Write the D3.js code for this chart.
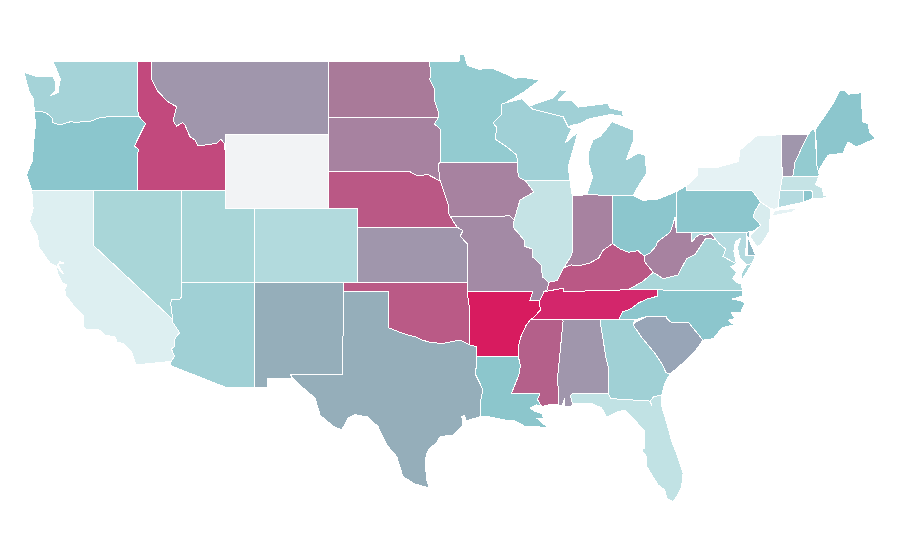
<!DOCTYPE html>
<html><head><meta charset="utf-8">
<script src="https://cdn.jsdelivr.net/npm/d3@7"></script>
<style>html,body{margin:0;background:#fff}svg{display:block}</style>
</head><body><svg id="map" width="900" height="560"></svg>
<script>
// State outlines, longitude / latitude
const WA=[[[-122.76,49],[-117.03,49],[-117.03,46.42],[-116.92,46],[-118.98,46],[-119.3,45.93],[-119.6,45.92],[-120.2,45.73],[-120.65,45.73],[-121.2,45.65],[-121.53,45.72],[-122,45.6],[-122.3,45.55],[-122.75,45.65],[-122.8,45.9],[-123.15,46.15],[-123.45,46.25],[-124,46.27],[-124.07,46.65],[-124.1,47],[-124.35,47.3],[-124.6,48],[-124.72,48.38],[-123.9,48.16],[-123.1,48.15],[-122.75,48.15],[-122.6,47.9],[-122.55,47.4],[-122.95,47.1],[-122.4,47.3],[-122.35,47.6],[-122.25,48],[-122.5,48.5],[-122.76,49]]];
const OR=[[[-124,46.27],[-123.45,46.25],[-123.15,46.15],[-122.8,45.9],[-122.75,45.65],[-122.3,45.55],[-122,45.6],[-121.53,45.72],[-121.2,45.65],[-120.65,45.73],[-120.2,45.73],[-119.6,45.92],[-119.3,45.93],[-118.98,46],[-116.92,46],[-116.47,45.6],[-116.85,45],[-117.22,44.4],[-116.95,44.2],[-117.03,43.8],[-117.03,42],[-124.2,42],[-124.55,42.84],[-124.15,43.6],[-124.05,44.7],[-123.95,45.5]]];
const CA=[[[-124.2,42],[-120,42],[-120,39],[-114.63,35],[-114.63,34.85],[-114.15,34.27],[-114.45,34],[-114.52,33.5],[-114.72,33.4],[-114.5,33],[-114.72,32.72],[-117.12,32.53],[-117.25,32.85],[-117.4,33.2],[-118,33.7],[-118.4,33.75],[-118.5,34.03],[-119.2,34.15],[-119.6,34.42],[-120.47,34.45],[-120.65,34.6],[-120.65,35.15],[-121.3,35.7],[-121.9,36.3],[-121.95,36.6],[-121.8,36.85],[-122.1,36.97],[-122.45,37.5],[-122.5,37.8],[-122.4,37.8],[-122.15,37.5],[-122.05,37.5],[-122.3,37.8],[-122.4,38],[-122,38.05],[-122.3,38.12],[-122.5,37.85],[-122.95,38.05],[-123.7,38.9],[-123.8,39.5],[-124.35,40.3],[-124.1,41]]];
const NV=[[[-120,42],[-114.04,42],[-114.04,36.2],[-114.15,36.05],[-114.7,36.1],[-114.75,35.85],[-114.63,35],[-120,39]]];
const UT=[[[-114.04,42],[-111.05,42],[-111.05,41],[-109.05,41],[-109.05,37],[-114.04,37]]];
const WY=[[[-111.05,45],[-104.05,45],[-104.05,41],[-111.05,41]]];
const CO=[[[-109.05,41],[-102.05,41],[-102.05,37],[-109.05,37]]];
const MT=[[[-116.05,49],[-104.05,49],[-104.05,45],[-111.05,45],[-111.07,44.48],[-111.34,44.77],[-111.63,44.54],[-112.9,44.39],[-113.1,44.72],[-113.45,44.9],[-113.79,45.53],[-113.97,45.66],[-114.35,45.47],[-114.6,45.76],[-114.35,46.52],[-114.94,46.79],[-115.62,47.34],[-116.03,47.97]]];
const ID=[[[-117.03,49],[-116.05,49],[-116.03,47.97],[-115.62,47.34],[-114.94,46.79],[-114.35,46.52],[-114.6,45.76],[-114.35,45.47],[-113.97,45.66],[-113.79,45.53],[-113.45,44.9],[-113.1,44.72],[-112.9,44.39],[-111.63,44.54],[-111.34,44.77],[-111.07,44.48],[-111.05,42],[-117.03,42],[-117.03,43.8],[-116.95,44.2],[-117.22,44.4],[-116.85,45],[-116.47,45.6],[-116.92,46],[-117.03,46.42]]];
const AZ=[[[-114.04,37],[-109.05,37],[-109.05,31.33],[-111.07,31.33],[-114.8,32.5],[-114.72,32.72],[-114.5,33],[-114.72,33.4],[-114.52,33.5],[-114.45,34],[-114.15,34.27],[-114.63,34.85],[-114.63,35],[-114.75,35.85],[-114.7,36.1],[-114.15,36.05],[-114.04,36.2]]];
const NM=[[[-109.05,37],[-103.04,37],[-103.04,36.5],[-103.06,32],[-106.62,32],[-106.53,31.78],[-108.2,31.78],[-108.2,31.33],[-109.05,31.33]]];
const TX=[[[-103.04,36.5],[-99.97,36.5],[-99.97,34.55],[-99.3,34.33],[-98.63,34.15],[-98.16,34.06],[-97.7,33.88],[-97.03,33.73],[-96.24,33.7],[-95.1,33.88],[-94.43,33.6],[-93.97,33.52],[-93.97,33],[-94.04,31.99],[-93.55,31.2],[-93.7,30.6],[-93.7,30.1],[-93.74,29.72],[-94.7,29.5],[-94.8,29.78],[-94.98,29.72],[-94.9,29.27],[-95.58,28.73],[-96.46,28.64],[-96.69,28.3],[-97.14,28.03],[-97.36,27.75],[-97.48,27.28],[-97.36,26.28],[-97.2,25.9],[-97.35,25.9],[-98.16,26.07],[-98.98,26.47],[-99.4,27.55],[-100.08,28.19],[-100.67,29.18],[-101.35,29.7],[-102.24,29.83],[-102.71,29.65],[-103.14,29],[-103.71,29.2],[-104.6,29.8],[-104.95,30.73],[-105.86,31.35],[-106.65,31.98],[-103.06,32]]];
const ND=[[[-104.05,49],[-97.23,49],[-97.1,48.5],[-97.15,48],[-96.85,47.5],[-96.85,46.9],[-96.6,46.3],[-96.56,45.94],[-104.05,45.94]]];
const SD=[[[-104.05,45.94],[-96.56,45.94],[-96.85,45.6],[-96.45,45.3],[-96.45,43.5],[-96.6,43.4],[-96.45,42.49],[-96.7,42.6],[-97.3,42.85],[-98,42.77],[-98.5,43],[-104.05,43]]];
const NE=[[[-104.05,43],[-98.5,43],[-98,42.77],[-97.3,42.85],[-96.7,42.6],[-96.45,42.49],[-96.1,41.7],[-95.9,41.2],[-95.85,40.7],[-95.31,40],[-102.05,40],[-102.05,41],[-104.05,41]]];
const KS=[[[-102.05,40],[-95.31,40],[-94.9,39.8],[-95.1,39.5],[-94.61,39.1],[-94.61,37],[-102.05,37]]];
const OK=[[[-103.04,37],[-94.62,37],[-94.62,36.5],[-94.43,35.4],[-94.43,33.6],[-95.1,33.88],[-96.24,33.7],[-97.03,33.73],[-97.7,33.88],[-98.16,34.06],[-98.63,34.15],[-99.3,34.33],[-99.97,34.55],[-99.97,36.5],[-103.04,36.5]]];
const MN=[[[-97.23,49],[-95.15,49],[-95.15,49.38],[-94.95,49.37],[-94.8,49.3],[-94.6,48.75],[-93.8,48.55],[-92.95,48.62],[-92,48.3],[-91.4,48.07],[-90.75,48.1],[-89.67,47.97],[-90.8,47.3],[-92.05,46.72],[-92.29,46.66],[-92.29,46.1],[-92.87,45.64],[-92.6,45.4],[-92.72,44.77],[-91.93,44.35],[-91.25,43.9],[-91.2,43.5],[-96.45,43.5],[-96.45,45.3],[-96.85,45.6],[-96.56,45.94],[-96.6,46.3],[-96.85,46.9],[-96.85,47.5],[-97.15,48],[-97.1,48.5]]];
const IA=[[[-96.45,43.5],[-91.2,43.5],[-91.2,43.1],[-91.1,42.7],[-90.65,42.5],[-90.08,41.9],[-91.03,41.46],[-91.1,40.95],[-91.42,40.38],[-91.73,40.6],[-95.77,40.58],[-95.85,40.7],[-95.9,41.2],[-96.1,41.7],[-96.45,42.49],[-96.6,43.4]]];
const MO=[[[-95.77,40.58],[-91.73,40.6],[-91.42,40.38],[-91.5,40],[-90.75,39.3],[-90.7,38.95],[-90.15,38.8],[-90.2,38.4],[-89.6,37.95],[-89.5,37.3],[-89.1,37],[-89.15,36.6],[-89.4,36.5],[-89.7,36],[-90.37,36],[-90.15,36.5],[-94.62,36.5],[-94.61,39.1],[-95.1,39.5],[-94.9,39.8],[-95.31,40]]];
const AR=[[[-94.62,36.5],[-90.15,36.5],[-90.37,36],[-89.7,36],[-89.65,35.5],[-90.1,35.1],[-90.3,35],[-90.6,34.7],[-91,34],[-91.15,33.45],[-91.15,33],[-93.97,33],[-93.97,33.52],[-94.43,33.6],[-94.43,35.4]]];
const LA=[[[-93.97,33],[-91.15,33],[-91,32.5],[-91.1,32],[-91.6,31],[-89.67,30.95],[-89.85,30.65],[-89.55,30.26],[-89.9,30.36],[-90.35,30.18],[-90,30],[-89.55,29.9],[-89.45,29.65],[-89.9,29.65],[-89.1,29.1],[-90,29.2],[-90.7,29.2],[-91.4,29.5],[-92.15,29.55],[-93.3,29.75],[-93.74,29.72],[-93.7,30.1],[-93.7,30.6],[-93.55,31.2],[-94.04,31.99]]];
const WI=[[[-92.05,46.72],[-90.9,46.95],[-90.8,46.9],[-90.15,46.38],[-88.1,45.98],[-87.76,45.44],[-87.55,45.3],[-87.97,44.55],[-87.09,45.15],[-87.43,44.17],[-87.76,43.27],[-87.63,42.5],[-90.65,42.5],[-91.1,42.7],[-91.2,43.1],[-91.2,43.5],[-91.25,43.9],[-91.93,44.35],[-92.72,44.77],[-92.6,45.4],[-92.87,45.64],[-92.29,46.1],[-92.29,46.66]]];
const IL=[[[-90.65,42.5],[-87.63,42.5],[-87.5,41.8],[-87.43,41.7],[-87.45,39.35],[-87.5,38.5],[-88.05,37.8],[-88.5,37.1],[-89.1,37],[-89.5,37.3],[-89.6,37.95],[-90.2,38.4],[-90.15,38.8],[-90.7,38.95],[-90.75,39.3],[-91.5,40],[-91.42,40.38],[-91.03,41.46],[-90.08,41.9]]];
const IN=[[[-87.43,41.7],[-86.5,41.75],[-84.75,41.72],[-84.75,39.1],[-85.4,38.73],[-85.7,38.3],[-86.3,38.05],[-87,37.9],[-87.55,37.95],[-88.05,37.8],[-87.5,38.5],[-87.45,39.35]]];
const MI=[[[-86.5,41.75],[-84.75,41.72],[-83.35,41.7],[-83,42.2],[-82.42,42.93],[-82.54,43.9],[-83,44],[-83.82,43.63],[-83.35,44.63],[-83.35,45.26],[-84.8,45.72],[-85.2,45.26],[-85.6,44.9],[-86.07,44.72],[-86.4,44],[-86.4,43.55],[-86.1,42.7]],[[-90.4,46.55],[-90.23,46.6],[-88.8,47],[-88.3,47.43],[-87.76,47.4],[-88.45,46.85],[-87.5,46.85],[-87.1,46.5],[-85.05,46.7],[-84.9,46.45],[-84.1,46.3],[-84,46],[-84.9,46.1],[-86.4,45.85],[-86.95,45.6],[-87.35,45.55],[-87.76,45.44],[-88.1,45.98],[-90.15,46.38]]];
const OH=[[[-84.75,41.72],[-83.35,41.7],[-82.7,41.45],[-81.7,41.5],[-80.38,41.93],[-80.4,40.56],[-80.65,40.1],[-80.85,39.7],[-81.7,39.2],[-81.75,39],[-82.2,38.6],[-82.6,38.42],[-83,38.72],[-83.65,38.63],[-84.2,38.8],[-84.75,39.1]]];
const KY=[[[-89.4,36.5],[-88.07,36.68],[-88.07,36.5],[-83.68,36.6],[-83.1,36.85],[-82.7,37.05],[-81.97,37.54],[-82.6,38.15],[-82.6,38.42],[-83,38.72],[-83.65,38.63],[-84.2,38.8],[-84.75,39.1],[-85.4,38.73],[-85.7,38.3],[-86.3,38.05],[-87,37.9],[-87.55,37.95],[-88.05,37.8],[-88.5,37.1],[-89.1,37],[-89.15,36.6]]];
const TN=[[[-90.3,35],[-88.2,35],[-85.6,34.98],[-84.32,35],[-84.05,35.4],[-83.5,35.57],[-82.95,35.9],[-82.4,36.1],[-81.7,36.25],[-81.68,36.59],[-83.68,36.6],[-88.07,36.5],[-88.07,36.68],[-89.4,36.5],[-89.7,36],[-89.65,35.5],[-90.1,35.1]]];
const MS=[[[-90.3,35],[-88.2,35],[-88.1,34.9],[-88.47,31.9],[-88.4,30.35],[-88.9,30.4],[-89.55,30.26],[-89.85,30.65],[-89.67,30.95],[-91.6,31],[-91.1,32],[-91,32.5],[-91.15,33],[-91.15,33.45],[-91,34],[-90.6,34.7]]];
const AL=[[[-88.2,35],[-85.6,34.98],[-85.18,32.87],[-85,32.3],[-85.05,31],[-87.43,31],[-87.6,30.85],[-87.45,30.4],[-87.55,30.25],[-88,30.25],[-88,30.7],[-88.15,30.35],[-88.4,30.35],[-88.47,31.9],[-88.1,34.9]]];
const GA=[[[-85.6,34.98],[-83.2,34.98],[-83.35,34.7],[-82.75,34],[-81.9,33.2],[-81.4,32.6],[-81.1,32.1],[-80.85,32.03],[-81.2,31.5],[-81.4,30.9],[-81.95,30.8],[-82.2,30.55],[-82.08,30.35],[-82.2,30.57],[-84.86,30.7],[-85.05,31],[-85,32.3],[-85.18,32.87]]];
const FL=[[[-87.43,31],[-85.05,31],[-84.86,30.7],[-82.2,30.57],[-82.08,30.35],[-82.2,30.55],[-81.95,30.8],[-81.4,30.9],[-81.4,30.27],[-81.06,29.38],[-80.72,28.37],[-80.4,27.75],[-79.95,26.67],[-80.05,25.95],[-80.3,25.5],[-80.63,25.1],[-81.06,25.3],[-81.2,25.75],[-81.65,26.02],[-82.4,27],[-82.42,27.55],[-82.76,27.92],[-82.54,28.02],[-82.54,28.91],[-83.35,29.65],[-83.9,30.08],[-84.37,29.99],[-85.14,29.7],[-85.48,30.19],[-86.07,30.41],[-87.18,30.46],[-87.45,30.4],[-87.6,30.85]]];
const SC=[[[-83.2,34.85],[-82.4,35.15],[-81.05,35.15],[-81.05,35.05],[-80.72,34.8],[-79.55,34.8],[-78.6,33.87],[-79.2,33.2],[-80,32.6],[-80.85,32.03],[-81.1,32.1],[-81.4,32.6],[-81.9,33.2],[-82.75,34],[-83.35,34.7]]];
const NC=[[[-75.9,36.55],[-75.95,36.25],[-76.6,36.1],[-76,36],[-75.75,35.9],[-76.05,35.35],[-76.7,35.35],[-76.4,35.05],[-76.9,34.95],[-76.5,34.7],[-77.3,34.55],[-77.9,33.95],[-78.6,33.87],[-79.55,34.8],[-80.72,34.8],[-81.05,35.05],[-81.05,35.15],[-82.4,35.15],[-83.2,34.98],[-84.32,35],[-84.05,35.4],[-83.5,35.57],[-82.95,35.9],[-82.4,36.1],[-81.7,36.25],[-81.68,36.59]]];
const VA=[[[-83.68,36.6],[-82.7,37.05],[-81.97,37.54],[-81.3,37.2],[-80.3,37.4],[-79.7,38.3],[-79.15,38.5],[-78.4,39.4],[-77.72,39.32],[-77.5,39.1],[-77.05,38.8],[-77.25,38.4],[-77,38.3],[-76.32,38],[-76.7,37.85],[-76.3,37.55],[-76.6,37.2],[-76.3,37],[-76,36.9],[-75.9,36.55],[-81.68,36.59]],[[-75.65,37.95],[-75.25,38.03],[-75.95,37.15],[-75.95,37.5]]];
const WV=[[[-80.5,40.56],[-80.4,39.72],[-79.36,39.72],[-79.36,39.2],[-79.05,39.47],[-78.8,39.6],[-78.45,39.55],[-78.05,39.66],[-77.72,39.32],[-78.4,39.4],[-79.15,38.5],[-79.7,38.3],[-80.3,37.4],[-81.3,37.2],[-81.97,37.54],[-82.6,38.15],[-82.6,38.42],[-82.2,38.6],[-81.75,39],[-81.7,39.2],[-80.85,39.7],[-80.65,40.1]]];
const MD=[[[-79.36,39.72],[-75.62,39.72],[-75.7,38.46],[-75.05,38.45],[-75.25,38.03],[-75.65,37.95],[-76.1,38.3],[-76.25,38.9],[-76.05,39.4],[-76.4,39.2],[-76.5,38.7],[-76.32,38],[-77,38.3],[-77.25,38.4],[-77.05,38.8],[-77.5,39.1],[-77.72,39.32],[-78.05,39.66],[-78.45,39.55],[-78.8,39.6],[-79.05,39.47],[-79.36,39.2]]];
const DE=[[[-75.62,39.75],[-75.4,39.75],[-75.5,39.35],[-75.03,38.48],[-75.55,38.46]]];
const PA=[[[-80.38,41.93],[-79.7,42.25],[-79.7,42],[-75.3,42],[-74.95,41.65],[-74.7,41.35],[-75.07,40.85],[-75.2,40.55],[-74.67,40.1],[-75.1,39.8],[-75.4,39.75],[-75.62,39.72],[-80.4,39.72],[-80.4,40.56]]];
const NJ=[[[-74.7,41.35],[-74.05,41.03],[-74,40.7],[-74.05,40.4],[-74.1,39.75],[-74.7,39],[-74.95,38.95],[-75.4,39.5],[-75.1,39.8],[-74.67,40.1],[-75.2,40.55],[-75.07,40.85]]];
const NY=[[[-79.7,42.25],[-78.94,42.85],[-78.94,43.2],[-77.55,43.25],[-76.2,43.55],[-76.08,44.17],[-74.95,44.95],[-73.3,45],[-73.25,44.35],[-73.25,43.55],[-73.2,42.73],[-73.36,42],[-73.5,41.1],[-73.7,40.95],[-74.05,41.03],[-74.7,41.35],[-74.95,41.65],[-75.3,42],[-79.7,42]],[[-73.95,40.6],[-73.7,40.9],[-72.5,41],[-72.1,41.05],[-72.6,40.8]]];
const VT=[[[-73.3,45],[-71.47,45],[-71.9,44.28],[-72.35,43.5],[-72.5,42.73],[-73.2,42.73],[-73.25,43.55],[-73.25,44.35]]];
const NH=[[[-71.47,45],[-71.2,45.28],[-71,45.28],[-70.85,43.27],[-70.7,42.85],[-70.85,42.72],[-72.5,42.73],[-72.35,43.5],[-71.9,44.28]]];
const ME=[[[-70.95,45.3],[-69.75,46.7],[-69.3,47.43],[-69,47.4],[-68.75,47.2],[-67.85,47.28],[-67.75,45.7],[-67.4,45.6],[-67.25,45.1],[-66.9,44.8],[-68.15,44.35],[-68.75,44.6],[-69.1,44],[-70.1,43.9],[-70.65,43.2],[-70.7,42.85],[-70.85,43.27]]];
const MA=[[[-73.2,42.73],[-70.85,42.72],[-70.7,42.85],[-70.95,42.3],[-70.5,42.1],[-70.4,41.7],[-69.97,41.72],[-70.5,41.55],[-71.15,41.55],[-71.2,42],[-73.36,42]]];
const CT=[[[-73.36,42],[-71.8,42],[-71.75,41.35],[-73.5,41.05]]];
const RI=[[[-71.75,42],[-71.2,42],[-71.15,41.55],[-71.75,41.35]]];

const stateNames=["Washington","Oregon","California","Nevada","Utah","Wyoming","Colorado","Montana","Idaho","Arizona","New Mexico","Texas","North Dakota","South Dakota","Nebraska","Kansas","Oklahoma","Minnesota","Iowa","Missouri","Arkansas","Louisiana","Wisconsin","Illinois","Indiana","Michigan","Ohio","Kentucky","Tennessee","Mississippi","Alabama","Georgia","Florida","South Carolina","North Carolina","Virginia","West Virginia","Maryland","Delaware","Pennsylvania","New Jersey","New York","Vermont","New Hampshire","Maine","Massachusetts","Connecticut","Rhode Island"];
const stateShapes=[WA,OR,CA,NV,UT,WY,CO,MT,ID,AZ,NM,TX,ND,SD,NE,KS,OK,MN,IA,MO,AR,LA,WI,IL,IN,MI,OH,KY,TN,MS,AL,GA,FL,SC,NC,VA,WV,MD,DE,PA,NJ,NY,VT,NH,ME,MA,CT,RI];
const stateFills=["#a5d3d8","#8bc6cd","#ddeff1","#a9d6d8","#a9d6d8","#f2f3f5","#b2dadd","#a096ac","#c2497d","#a0d0d5","#95aeba","#95aeba","#a97a99","#a782a0","#ba5885","#a096ac","#ba5a86","#93cbd0","#a782a0","#a38aa5","#d81b5f","#8cc6cc","#a0d0d6","#c5e3e5","#a782a0","#a0d0d6","#8cc6cd","#ba5885","#d3266b","#b4608a","#a096ac","#a0d0d5","#c1e2e4","#98a5b7","#8cc6cd","#a9d6d9","#a782a0","#b5dbe0","#8fb9c5","#8cc6cd","#d8ecee","#e5f2f4","#a096ac","#93cbd0","#8cc6cd","#c5e3e5","#b5dbe0","#8cc6cd"];

const xScale=d3.scaleLinear().domain([-111,-66.9]).range([226,875.2]);
const yScale=d3.scaleLinear().domain([49,25]).range([61,503.8]);
const projection=d3.geoTransform({point(lon,lat){this.stream.point(xScale(lon),yScale(lat));}});
const path=d3.geoPath(projection);
const color=d3.scaleOrdinal(stateNames,stateFills);
const features=stateNames.map((name,i)=>({type:"Feature",properties:{name},geometry:{type:"MultiPolygon",coordinates:stateShapes[i].map(r=>[r.concat([r[0]])])}}));

d3.select("#map").selectAll("path").data(features).join("path")
  .attr("d",path)
  .attr("fill",d=>color(d.properties.name))
  .attr("stroke","#fff").attr("stroke-width",1)
  .attr("stroke-linejoin","round")
  .attr("shape-rendering","crispEdges");
</script></body></html>
